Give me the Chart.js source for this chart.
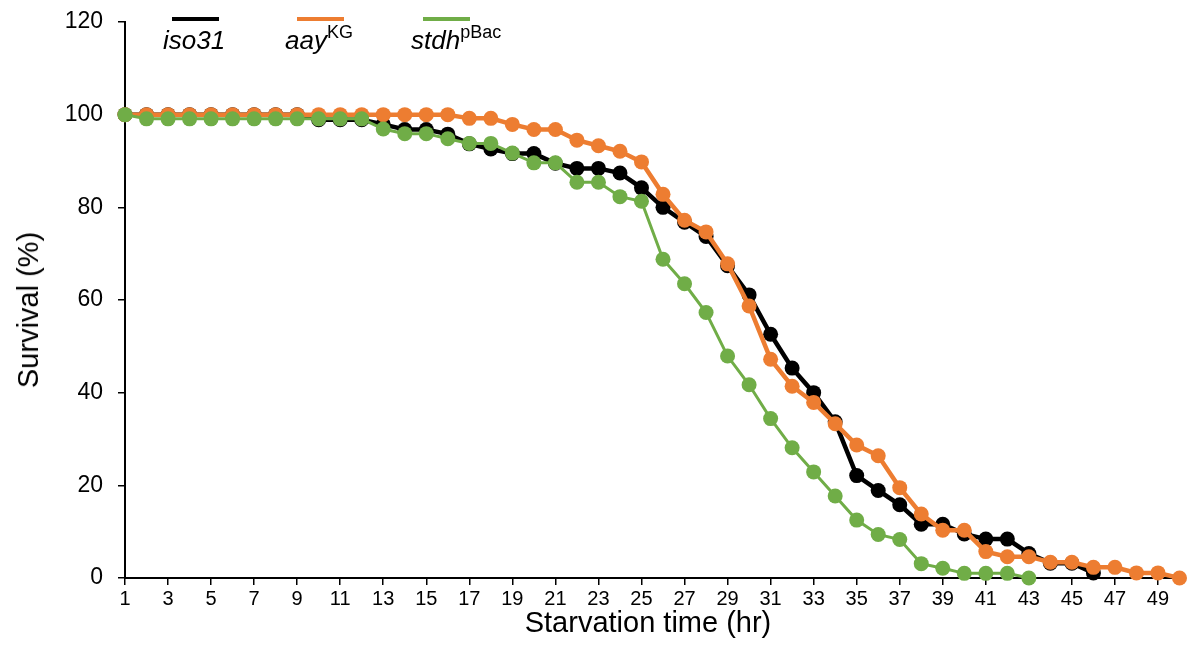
<!DOCTYPE html>
<html>
<head>
<meta charset="utf-8">
<script src="https://cdn.jsdelivr.net/npm/chart.js@4.4.1/dist/chart.umd.min.js"></script>
<style>
  html, body { margin: 0; padding: 0; background: #fff; }
  #wrap { position: relative; width: 1187px; height: 658px; font-family: "Liberation Sans", Arial, sans-serif; color: #000; }
  .item { position: absolute; top: 0; }
  .swatch { position: absolute; top: 17px; width: 47px; height: 4px; }
  .name { position: absolute; top: 27px; font-size: 26px; line-height: 26px; font-style: italic; white-space: nowrap; }
  .name sup { font-style: normal; font-size: 18px; line-height: 0; vertical-align: 11px; }
  .axis-title { position: absolute; font-size: 29px; line-height: 30px; white-space: nowrap; }
  #xTitle { left: 648px; top: 607px; transform: translateX(-50%); }
  #yTitle { left: 28px; top: 310px; transform: translate(-50%, -50%) rotate(-90deg); }
</style>
</head>
<body>
<div id="wrap">
  <canvas id="survChart" width="1187" height="658"></canvas>
  <div id="legend"></div>
  <div class="axis-title" id="xTitle">Starvation time (hr)</div>
  <div class="axis-title" id="yTitle">Survival (%)</div>
</div>
<script>
'use strict';

// starvation time (hr) and survival (%) per genotype
const hours = [1,2,3,4,5,6,7,8,9,10,11,12,13,14,15,16,17,18,19,20,21,22,23,24,25,
  26,27,28,29,30,31,32,33,34,35,36,37,38,39,40,41,42,43,44,45,46,47,48,49,50];
const xTicks = [1,3,5,7,9,11,13,15,17,19,21,23,25,27,29,31,33,35,37,39,41,43,45,47,49];

const iso31 = [100,100,100,100,100,100,100,100,100,98.9,98.9,98.9,97.9,96.8,96.8,95.8,
  93.7,92.6,91.6,91.6,89.5,88.4,88.4,87.4,84.2,80,76.8,73.7,67.4,61.1,52.6,45.3,40,
  33.7,22.1,18.9,15.8,11.6,11.6,9.5,8.4,8.4,5.3,3.2,3.2,1.1];
const aayKG = [100,100,100,100,100,100,100,100,100,100,100,100,100,100,100,100,99.2,99.2,
  97.9,96.8,96.8,94.5,93.3,92.1,89.8,82.8,77.2,74.7,67.8,58.7,47.2,41.4,37.9,33.3,28.7,
  26.4,19.5,13.8,10.3,10.3,5.7,4.6,4.6,3.4,3.4,2.3,2.3,1.1,1.1,0];
const stdhPBac = [100,99.1,99.1,99.1,99.1,99.1,99.1,99.1,99.1,99.1,99.1,99.1,96.9,95.9,95.9,
  94.8,93.8,93.8,91.7,89.6,89.6,85.4,85.4,82.3,81.3,68.8,63.5,57.3,47.9,41.7,34.4,28.1,
  22.9,17.7,12.5,9.4,8.3,3.1,2.1,1,1,1,0];

const series = [
  { name: 'iso31', sup: '', values: iso31, color: '#000000', width: 4.5, order: 3, legendX: 163 },
  { name: 'aay', sup: 'KG', values: aayKG, color: '#ED7D31', width: 4.5, order: 2, legendX: 285 },
  { name: 'stdh', sup: 'pBac', values: stdhPBac, color: '#70AD47', width: 3, order: 1, legendX: 411 },
];

const FONT = '"Liberation Sans", Arial, sans-serif';

// legend with italic gene names and superscript alleles
const legend = document.getElementById('legend');
series.forEach(s => {
  const item = document.createElement('div');
  item.className = 'item';
  item.style.left = s.legendX + 'px';
  item.innerHTML = `<div class="swatch" style="left:${s.name === 'iso31' ? 9 : 12}px;background:${s.color}"></div>` +
    `<div class="name">${s.name}${s.sup ? '<sup>' + s.sup + '</sup>' : ''}</div>`;
  legend.appendChild(item);
});

const datasets = series.map(s => ({
  label: s.name + s.sup,
  data: s.values.map((v, i) => ({ x: hours[i], y: v })),
  borderColor: s.color,
  backgroundColor: s.color,
  borderWidth: s.width,
  pointRadius: 7.5,
  pointHoverRadius: 7.5,
  pointBorderWidth: 0,
  tension: 0,
  clip: false,
  order: s.order,
}));

const ctx = document.getElementById('survChart');

new Chart(ctx, {
  type: 'line',
  data: { datasets: datasets },
  options: {
    responsive: false,
    animation: false,
    layout: { padding: { top: 22, right: 6, left: 0, bottom: 0 } },
    scales: {
      x: {
        type: 'linear',
        min: 1,
        max: 50,
        afterBuildTicks: scale => { scale.ticks = xTicks.map(v => ({ value: v })); },
        afterFit: scale => { scale.height = 80; },
        grid: { drawOnChartArea: false, drawTicks: true, tickLength: 7, color: '#000', lineWidth: 1.5 },
        border: { display: true, color: '#000', width: 2 },
        ticks: { color: '#000', font: { family: FONT, size: 20 }, padding: 2, maxRotation: 0, autoSkip: false },
      },
      y: {
        min: 0,
        max: 120,
        afterFit: scale => { scale.width = 125; },
        grid: { drawOnChartArea: false, drawTicks: true, tickLength: 7, color: '#000', lineWidth: 1.5 },
        border: { display: true, color: '#000', width: 2 },
        // small lineHeight keeps the top label from pushing the plot area down
        ticks: { stepSize: 20, color: '#000', font: { family: FONT, size: 23, lineHeight: 0.3 }, padding: 15 },
      },
    },
    plugins: {
      legend: { display: false },
      tooltip: { enabled: false },
    },
  },
});
</script>
</body>
</html>
